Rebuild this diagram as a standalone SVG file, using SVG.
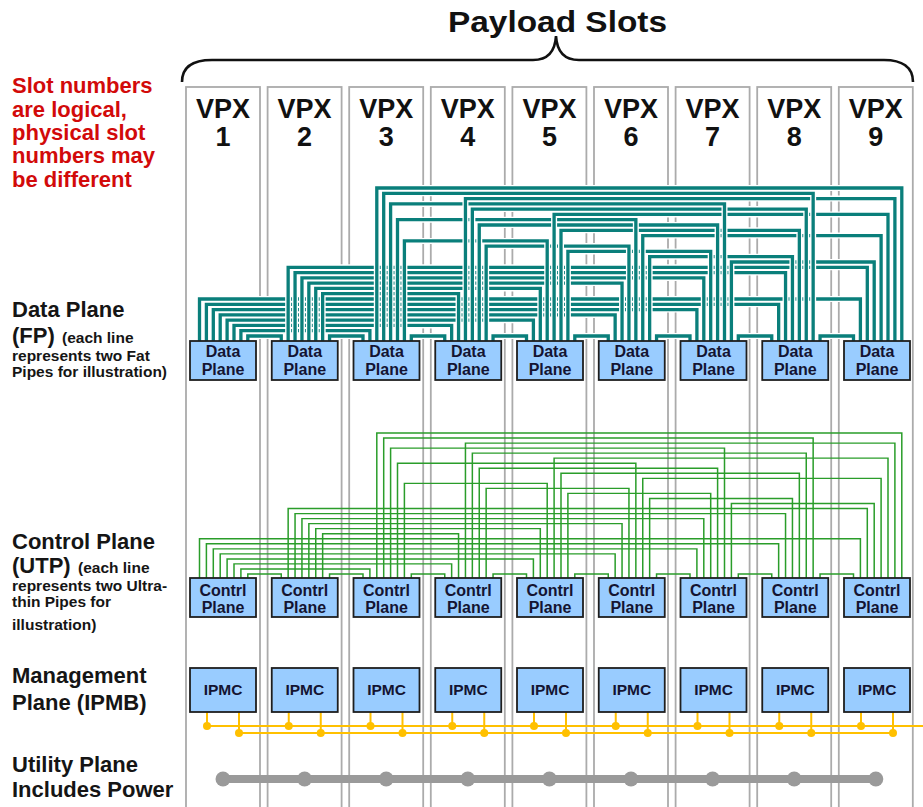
<svg xmlns="http://www.w3.org/2000/svg" width="923" height="807" viewBox="0 0 923 807">
<style>
.slot{fill:none;stroke:#ababab;stroke-width:1.8}
.vpx{font-family:"Liberation Sans",Arial,sans-serif;font-weight:bold;font-size:27px;text-anchor:middle;fill:#111}
.box{fill:#99ccff;stroke:#1e1e1e;stroke-width:1.8}
.bt{font-family:"Liberation Sans",Arial,sans-serif;font-weight:bold;font-size:16px;text-anchor:middle;fill:#141432}
.it{font-family:"Liberation Sans",Arial,sans-serif;font-weight:bold;font-size:15.5px;text-anchor:middle;fill:#141432}
.cs{fill:none;stroke:#fff;stroke-width:6}
.tl{fill:none;stroke:#0a7f7b;stroke-width:3.3}
.gl{fill:none;stroke:#2a9d2a;stroke-width:1.5}
.red{font-family:"Liberation Sans",Arial,sans-serif;font-weight:bold;font-size:22px;fill:#d20a0a}
.lh{font-family:"Liberation Sans",Arial,sans-serif;font-weight:bold;font-size:22px;fill:#151515}
.lb{font-family:"Liberation Sans",Arial,sans-serif;font-weight:bold;font-size:22px;fill:#151515}
.ls{font-family:"Liberation Sans",Arial,sans-serif;font-weight:bold;font-size:15.5px;fill:#151515}
.ipmb{fill:none;stroke:#ffc000;stroke-width:2}
.dot{fill:#ffc000}
.util{fill:none;stroke:#9a9a9a;stroke-width:8}
.ud{fill:#9a9a9a}
</style>
<defs>
<path id="c12" d="M247.8 341V336H281.25V341"/>
<path id="c23" d="M329.55 341V336H363V341"/>
<path id="c34" d="M411.3 341V336H444.75V341"/>
<path id="c45" d="M493.05 341V336H526.5V341"/>
<path id="c56" d="M574.8 341V336H608.25V341"/>
<path id="c67" d="M656.55 341V336H690V341"/>
<path id="c78" d="M738.3 341V336H771.75V341"/>
<path id="c89" d="M820.05 341V336H853.5V341"/>
<path id="c13" d="M240.9 341V330.7H369.9V341"/>
<path id="c14" d="M234 341V325.4H451.65V341"/>
<path id="c15" d="M227.1 341V320.2H533.4V341"/>
<path id="c16" d="M220.2 341V314.9H615.15V341"/>
<path id="c17" d="M213.3 341V309.6H696.9V341"/>
<path id="c18" d="M206.4 341V304.3H778.65V341"/>
<path id="c19" d="M199.5 341V299H860.4V341"/>
<path id="c24" d="M322.65 341V293.7H458.55V341"/>
<path id="c25" d="M315.75 341V288.4H540.3V341"/>
<path id="c26" d="M308.85 341V283.1H622.05V341"/>
<path id="c27" d="M301.95 341V277.9H703.8V341"/>
<path id="c28" d="M295.05 341V272.6H785.55V341"/>
<path id="c29" d="M288.15 341V267.3H867.3V341"/>
<path id="c79" d="M731.4 341V262H874.2V341"/>
<path id="c68" d="M649.65 341V256.7H792.45V341"/>
<path id="c57" d="M567.9 341V251.4H710.7V341"/>
<path id="c46" d="M486.15 341V246.1H628.95V341"/>
<path id="c35" d="M404.4 341V240.9H547.2V341"/>
<path id="c69" d="M642.75 341V235.6H881.1V341"/>
<path id="c58" d="M561 341V230.3H799.35V341"/>
<path id="c47" d="M479.25 341V225H717.6V341"/>
<path id="c36" d="M397.5 341V219.7H635.85V341"/>
<path id="c59" d="M554.1 341V214.4H888V341"/>
<path id="c48" d="M472.35 341V209.1H806.25V341"/>
<path id="c37" d="M390.6 341V203.9H724.5V341"/>
<path id="c49" d="M465.45 341V198.6H894.9V341"/>
<path id="c38" d="M383.7 341V193.3H813.15V341"/>
<path id="c39" d="M376.8 341V188H901.8V341"/>
</defs>
<rect width="923" height="807" fill="#fff"/>

<g id="title">
<text x="557.5" y="32" font-family="Liberation Sans, Arial, sans-serif" font-weight="bold" font-size="29" text-anchor="middle" fill="#111" textLength="219" lengthAdjust="spacingAndGlyphs">Payload Slots</text>
<path d="M182 82C182 67 193 60 212 60L533 60C547 60 555 53 556 36C557 53 565 60 579 60L884 60C902 60 913 67 913 82" fill="none" stroke="#111" stroke-width="2.6"/>
</g>

<g id="labels">
<text class="red" x="12" y="93">Slot numbers</text>
<text class="red" x="12" y="117">are logical,</text>
<text class="red" x="12" y="140">physical slot</text>
<text class="red" x="12" y="163">numbers may</text>
<text class="red" x="12" y="187">be different</text>
<text class="lh" x="12" y="317">Data Plane</text>
<text class="lh" x="12" y="343">(FP)</text>
<text class="ls" x="62" y="343">(each line</text>
<text class="ls" x="12" y="361">represents two Fat</text>
<text class="ls" x="12" y="377">Pipes for illustration)</text>
<text class="lh" x="12" y="549">Control Plane</text>
<text class="lh" x="12" y="573">(UTP)</text>
<text class="ls" x="78" y="573">(each line</text>
<text class="ls" x="12" y="591">represents two Ultra-</text>
<text class="ls" x="12" y="607">thin Pipes for</text>
<text class="ls" x="12" y="630">illustration)</text>
<text class="lb" x="12" y="683">Management</text>
<text class="lb" x="12" y="710">Plane (IPMB)</text>
<text class="lb" x="12" y="772">Utility Plane</text>
<text class="lb" x="12" y="797">Includes Power</text>
</g>

<g id="slot1"><rect class="slot" x="186" y="87" width="74" height="730"/><text class="vpx" x="223" y="118">VPX</text><text class="vpx" x="223" y="146">1</text></g>
<g id="slot2"><rect class="slot" x="267.6" y="87" width="74" height="730"/><text class="vpx" x="304.6" y="118">VPX</text><text class="vpx" x="304.6" y="146">2</text></g>
<g id="slot3"><rect class="slot" x="349.2" y="87" width="74" height="730"/><text class="vpx" x="386.2" y="118">VPX</text><text class="vpx" x="386.2" y="146">3</text></g>
<g id="slot4"><rect class="slot" x="430.8" y="87" width="74" height="730"/><text class="vpx" x="467.8" y="118">VPX</text><text class="vpx" x="467.8" y="146">4</text></g>
<g id="slot5"><rect class="slot" x="512.4" y="87" width="74" height="730"/><text class="vpx" x="549.4" y="118">VPX</text><text class="vpx" x="549.4" y="146">5</text></g>
<g id="slot6"><rect class="slot" x="594" y="87" width="74" height="730"/><text class="vpx" x="631" y="118">VPX</text><text class="vpx" x="631" y="146">6</text></g>
<g id="slot7"><rect class="slot" x="675.6" y="87" width="74" height="730"/><text class="vpx" x="712.6" y="118">VPX</text><text class="vpx" x="712.6" y="146">7</text></g>
<g id="slot8"><rect class="slot" x="757.2" y="87" width="74" height="730"/><text class="vpx" x="794.2" y="118">VPX</text><text class="vpx" x="794.2" y="146">8</text></g>
<g id="slot9"><rect class="slot" x="838.8" y="87" width="74" height="730"/><text class="vpx" x="875.8" y="118">VPX</text><text class="vpx" x="875.8" y="146">9</text></g>

<g id="connectors">
<g id="fat-pipes">
<use href="#c12" class="cs"/><use href="#c12" class="tl"/>
<use href="#c23" class="cs"/><use href="#c23" class="tl"/>
<use href="#c34" class="cs"/><use href="#c34" class="tl"/>
<use href="#c45" class="cs"/><use href="#c45" class="tl"/>
<use href="#c56" class="cs"/><use href="#c56" class="tl"/>
<use href="#c67" class="cs"/><use href="#c67" class="tl"/>
<use href="#c78" class="cs"/><use href="#c78" class="tl"/>
<use href="#c89" class="cs"/><use href="#c89" class="tl"/>
<use href="#c13" class="cs"/><use href="#c13" class="tl"/>
<use href="#c14" class="cs"/><use href="#c14" class="tl"/>
<use href="#c15" class="cs"/><use href="#c15" class="tl"/>
<use href="#c16" class="cs"/><use href="#c16" class="tl"/>
<use href="#c17" class="cs"/><use href="#c17" class="tl"/>
<use href="#c18" class="cs"/><use href="#c18" class="tl"/>
<use href="#c19" class="cs"/><use href="#c19" class="tl"/>
<use href="#c24" class="cs"/><use href="#c24" class="tl"/>
<use href="#c25" class="cs"/><use href="#c25" class="tl"/>
<use href="#c26" class="cs"/><use href="#c26" class="tl"/>
<use href="#c27" class="cs"/><use href="#c27" class="tl"/>
<use href="#c28" class="cs"/><use href="#c28" class="tl"/>
<use href="#c29" class="cs"/><use href="#c29" class="tl"/>
<use href="#c79" class="cs"/><use href="#c79" class="tl"/>
<use href="#c68" class="cs"/><use href="#c68" class="tl"/>
<use href="#c57" class="cs"/><use href="#c57" class="tl"/>
<use href="#c46" class="cs"/><use href="#c46" class="tl"/>
<use href="#c35" class="cs"/><use href="#c35" class="tl"/>
<use href="#c69" class="cs"/><use href="#c69" class="tl"/>
<use href="#c58" class="cs"/><use href="#c58" class="tl"/>
<use href="#c47" class="cs"/><use href="#c47" class="tl"/>
<use href="#c36" class="cs"/><use href="#c36" class="tl"/>
<use href="#c59" class="cs"/><use href="#c59" class="tl"/>
<use href="#c48" class="cs"/><use href="#c48" class="tl"/>
<use href="#c37" class="cs"/><use href="#c37" class="tl"/>
<use href="#c49" class="cs"/><use href="#c49" class="tl"/>
<use href="#c38" class="cs"/><use href="#c38" class="tl"/>
<use href="#c39" class="cs"/><use href="#c39" class="tl"/>
</g>
<g id="ultra-thin-pipes" transform="matrix(1 0 0 0.9527 0 253.89)" class="gl">
<use href="#c12"/><use href="#c23"/><use href="#c34"/><use href="#c45"/><use href="#c56"/><use href="#c67"/><use href="#c78"/><use href="#c89"/>
<use href="#c13"/><use href="#c14"/><use href="#c15"/><use href="#c16"/><use href="#c17"/><use href="#c18"/><use href="#c19"/>
<use href="#c24"/><use href="#c25"/><use href="#c26"/><use href="#c27"/><use href="#c28"/><use href="#c29"/>
<use href="#c79"/><use href="#c68"/><use href="#c57"/><use href="#c46"/><use href="#c35"/><use href="#c69"/><use href="#c58"/>
<use href="#c47"/><use href="#c36"/><use href="#c59"/><use href="#c48"/><use href="#c37"/><use href="#c49"/><use href="#c38"/><use href="#c39"/>
</g>
<g id="ipmb">
<path class="ipmb" d="M207 726H923M239 733H893"/>
<path class="ipmb" d="M207 712V726M239 712V733M288.75 712V726M320.75 712V733M370.5 712V726M402.5 712V733M452.25 712V726M484.25 712V733M534 712V726M566 712V733M615.75 712V726M647.75 712V733M697.5 712V726M729.5 712V733M779.25 712V726M811.25 712V733M861 712V726M893 712V733"/>
<g class="dot">
<circle cx="207" cy="726" r="4"/><circle cx="239" cy="733" r="4"/>
<circle cx="288.75" cy="726" r="4"/><circle cx="320.75" cy="733" r="4"/>
<circle cx="370.5" cy="726" r="4"/><circle cx="402.5" cy="733" r="4"/>
<circle cx="452.25" cy="726" r="4"/><circle cx="484.25" cy="733" r="4"/>
<circle cx="534" cy="726" r="4"/><circle cx="566" cy="733" r="4"/>
<circle cx="615.75" cy="726" r="4"/><circle cx="647.75" cy="733" r="4"/>
<circle cx="697.5" cy="726" r="4"/><circle cx="729.5" cy="733" r="4"/>
<circle cx="779.25" cy="726" r="4"/><circle cx="811.25" cy="733" r="4"/>
<circle cx="861" cy="726" r="4"/><circle cx="893" cy="733" r="4"/>
</g>
</g>
<g id="utility">
<path class="util" d="M223 779H875.8"/>
<g class="ud">
<circle cx="223" cy="779" r="7.5"/><circle cx="304.6" cy="779" r="7.5"/><circle cx="386.2" cy="779" r="7.5"/><circle cx="467.8" cy="779" r="7.5"/><circle cx="549.4" cy="779" r="7.5"/><circle cx="631" cy="779" r="7.5"/><circle cx="712.6" cy="779" r="7.5"/><circle cx="794.2" cy="779" r="7.5"/><circle cx="875.8" cy="779" r="7.5"/>
</g>
</g>
</g>

<g id="dp1"><rect class="box" x="190" y="341" width="66" height="39"/><text class="bt" x="223" y="357">Data</text><text class="bt" x="223" y="375">Plane</text></g>
<g id="dp2"><rect class="box" x="271.75" y="341" width="66" height="39"/><text class="bt" x="304.75" y="357">Data</text><text class="bt" x="304.75" y="375">Plane</text></g>
<g id="dp3"><rect class="box" x="353.5" y="341" width="66" height="39"/><text class="bt" x="386.5" y="357">Data</text><text class="bt" x="386.5" y="375">Plane</text></g>
<g id="dp4"><rect class="box" x="435.25" y="341" width="66" height="39"/><text class="bt" x="468.25" y="357">Data</text><text class="bt" x="468.25" y="375">Plane</text></g>
<g id="dp5"><rect class="box" x="517" y="341" width="66" height="39"/><text class="bt" x="550" y="357">Data</text><text class="bt" x="550" y="375">Plane</text></g>
<g id="dp6"><rect class="box" x="598.75" y="341" width="66" height="39"/><text class="bt" x="631.75" y="357">Data</text><text class="bt" x="631.75" y="375">Plane</text></g>
<g id="dp7"><rect class="box" x="680.5" y="341" width="66" height="39"/><text class="bt" x="713.5" y="357">Data</text><text class="bt" x="713.5" y="375">Plane</text></g>
<g id="dp8"><rect class="box" x="762.25" y="341" width="66" height="39"/><text class="bt" x="795.25" y="357">Data</text><text class="bt" x="795.25" y="375">Plane</text></g>
<g id="dp9"><rect class="box" x="844" y="341" width="66" height="39"/><text class="bt" x="877" y="357">Data</text><text class="bt" x="877" y="375">Plane</text></g>

<g id="cp1"><rect class="box" x="190" y="578" width="66" height="39"/><text class="bt" x="223" y="595.5">Contrl</text><text class="bt" x="223" y="613">Plane</text></g>
<g id="cp2"><rect class="box" x="271.75" y="578" width="66" height="39"/><text class="bt" x="304.75" y="595.5">Contrl</text><text class="bt" x="304.75" y="613">Plane</text></g>
<g id="cp3"><rect class="box" x="353.5" y="578" width="66" height="39"/><text class="bt" x="386.5" y="595.5">Contrl</text><text class="bt" x="386.5" y="613">Plane</text></g>
<g id="cp4"><rect class="box" x="435.25" y="578" width="66" height="39"/><text class="bt" x="468.25" y="595.5">Contrl</text><text class="bt" x="468.25" y="613">Plane</text></g>
<g id="cp5"><rect class="box" x="517" y="578" width="66" height="39"/><text class="bt" x="550" y="595.5">Contrl</text><text class="bt" x="550" y="613">Plane</text></g>
<g id="cp6"><rect class="box" x="598.75" y="578" width="66" height="39"/><text class="bt" x="631.75" y="595.5">Contrl</text><text class="bt" x="631.75" y="613">Plane</text></g>
<g id="cp7"><rect class="box" x="680.5" y="578" width="66" height="39"/><text class="bt" x="713.5" y="595.5">Contrl</text><text class="bt" x="713.5" y="613">Plane</text></g>
<g id="cp8"><rect class="box" x="762.25" y="578" width="66" height="39"/><text class="bt" x="795.25" y="595.5">Contrl</text><text class="bt" x="795.25" y="613">Plane</text></g>
<g id="cp9"><rect class="box" x="844" y="578" width="66" height="39"/><text class="bt" x="877" y="595.5">Contrl</text><text class="bt" x="877" y="613">Plane</text></g>

<g id="ipmc1"><rect class="box" x="190" y="668" width="66" height="44"/><text class="it" x="223" y="695">IPMC</text></g>
<g id="ipmc2"><rect class="box" x="271.75" y="668" width="66" height="44"/><text class="it" x="304.75" y="695">IPMC</text></g>
<g id="ipmc3"><rect class="box" x="353.5" y="668" width="66" height="44"/><text class="it" x="386.5" y="695">IPMC</text></g>
<g id="ipmc4"><rect class="box" x="435.25" y="668" width="66" height="44"/><text class="it" x="468.25" y="695">IPMC</text></g>
<g id="ipmc5"><rect class="box" x="517" y="668" width="66" height="44"/><text class="it" x="550" y="695">IPMC</text></g>
<g id="ipmc6"><rect class="box" x="598.75" y="668" width="66" height="44"/><text class="it" x="631.75" y="695">IPMC</text></g>
<g id="ipmc7"><rect class="box" x="680.5" y="668" width="66" height="44"/><text class="it" x="713.5" y="695">IPMC</text></g>
<g id="ipmc8"><rect class="box" x="762.25" y="668" width="66" height="44"/><text class="it" x="795.25" y="695">IPMC</text></g>
<g id="ipmc9"><rect class="box" x="844" y="668" width="66" height="44"/><text class="it" x="877" y="695">IPMC</text></g>
</svg>
